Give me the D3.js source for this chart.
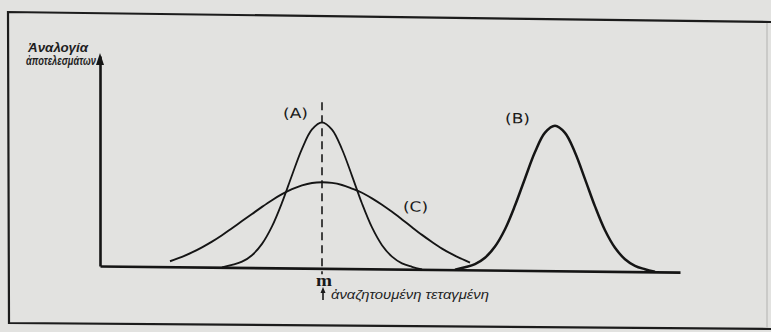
<!DOCTYPE html>
<html>
<head>
<meta charset="utf-8">
<script src="https://cdn.jsdelivr.net/npm/d3@7"></script>
<style>
  body { margin: 0; background: #e2e2e0; }
  svg { display: block; }
</style>
</head>
<body>
<div id="chart"></div>
<script>
// abscissa readings, m = 0
var xA = [-10, -9, -8, -7, -6, -5, -4, -3, -2, -1, 0, 1, 2, 3, 4, 5, 6, 7, 8, 9, 10];
var yA = [0, 0.25, 0.58, 1.24, 2.38, 4.14, 6.52, 9.28, 11.93, 13.88, 14.6,
          13.88, 11.93, 9.28, 6.52, 4.14, 2.38, 1.24, 0.58, 0.25, 0];

var xB = [13.3, 14.3, 15.3, 16.3, 17.3, 18.3, 19.3, 20.3, 21.3, 22.3, 23.3,
          24.3, 25.3, 26.3, 27.3, 28.3, 29.3, 30.3, 31.3, 32.3, 33.3];
var yB = [0, 0.25, 0.58, 1.23, 2.36, 4.1, 6.48, 9.2, 11.85, 13.8, 14.5,
          13.8, 11.85, 9.2, 6.48, 4.1, 2.36, 1.23, 0.58, 0.25, 0];

var xC = [-15.2, -14, -13, -12, -11, -10, -9, -8, -7, -6, -5, -4, -3, -2, -1, 0,
          1, 2, 3, 4, 5, 6, 7, 8, 9, 10, 11, 12, 13, 14, 14.8];
var yC = [0.55, 1.0, 1.45, 1.97, 2.55, 3.2, 3.92, 4.64, 5.36, 6.08, 6.76, 7.37, 7.88, 8.27, 8.52, 8.6,
          8.55, 8.35, 8.0, 7.6, 7.05, 6.42, 5.72, 4.97, 4.2, 3.45, 2.75, 2.1, 1.55, 1.08, 0.72];

var curveNames = ["(A)", "(B)", "(C)"];
var yTitle = ["Ἀναλογία", "ἀποτελεσμάτων"];
var xTitle = "ἀναζητουμένη τεταγμένη";
var mLabel = "m";
var mTop = 16.6;

var svg = d3.select("#chart")
  .append("svg")
  .attr("width", 771)
  .attr("height", 332);

svg.append("rect")
  .attr("width", 771)
  .attr("height", 332)
  .attr("fill", "#e2e2e0");

// page frame (scan is a bit skewed)
svg.append("path")
  .attr("d", "M771,22 L8,12 L9,323 L771,329")
  .attr("fill", "none")
  .attr("stroke", "#1c1c1c")
  .attr("stroke-width", 2.2);

svg.append("path")
  .attr("d", "M767,23 L767,328")
  .attr("fill", "none")
  .attr("stroke", "#c2c2c0")
  .attr("stroke-width", 1.5);

var x = d3.scaleLinear()
  .domain([-22.2, 35.8])
  .range([100, 680]);

var y = d3.scaleLinear()
  .domain([0, 21])
  .range([266, 56]);

var chartGroup = svg.append("g")
  .attr("transform", "translate(100,266) skewY(0.6) translate(-100,-266)");

// axes
var bottomAxis = d3.axisBottom(x).ticks(0).tickSizeOuter(0);
var leftAxis = d3.axisLeft(y).ticks(0).tickSizeOuter(0);

chartGroup.append("g")
  .attr("transform", `translate(0, ${y(0)})`)
  .call(bottomAxis)
  .select(".domain")
  .attr("stroke", "#151515")
  .attr("stroke-width", 2.6);

chartGroup.append("g")
  .attr("transform", `translate(${x.range()[0]}, 0)`)
  .call(leftAxis)
  .select(".domain")
  .attr("stroke", "#151515")
  .attr("stroke-width", 2.6);

// arrow head on ordinate
var topY = y.range()[1];
chartGroup.append("path")
  .attr("d", `M${x.range()[0]},${topY - 3} L${x.range()[0] - 4},${topY + 9} L${x.range()[0] + 4},${topY + 9} Z`)
  .attr("fill", "#151515");

// dashed line at m
chartGroup.append("line")
  .attr("x1", x(0)).attr("x2", x(0))
  .attr("y1", y(mTop)).attr("y2", y(-0.6))
  .attr("stroke", "#1a1a1a")
  .attr("stroke-width", 1.6)
  .attr("stroke-dasharray", "8,5");

var line = d3.line()
  .x(d => x(d[0]))
  .y(d => y(d[1]))
  .curve(d3.curveCatmullRom.alpha(0.5));

var curves = [
  { pts: d3.zip(xA, yA), w: 1.8 },
  { pts: d3.zip(xB, yB), w: 2.5 },
  { pts: d3.zip(xC, yC), w: 1.9 }
];

chartGroup.selectAll(".curve")
  .data(curves)
  .enter()
  .append("path")
  .attr("class", "curve")
  .attr("d", d => line(d.pts))
  .attr("fill", "none")
  .attr("stroke", "#151515")
  .attr("stroke-width", d => d.w)
  .attr("stroke-linejoin", "round");

// curve labels
var labelPos = [
  [x(0) - 39, y(d3.max(yA)) - 4],
  [x(23.3) - 50, y(d3.max(yB)) - 2],
  [x(8.1), y(yC[23]) - 8]
];

chartGroup.selectAll(".clabel")
  .data(curveNames)
  .enter()
  .append("text")
  .attr("class", "clabel")
  .attr("x", (d, i) => labelPos[i][0])
  .attr("y", (d, i) => labelPos[i][1])
  .attr("font-family", "DejaVu Sans")
  .attr("font-size", "14px")
  .attr("textLength", 25)
  .attr("lengthAdjust", "spacingAndGlyphs")
  .attr("fill", "#1a1a1a")
  .text(d => d);

// ordinate title
svg.selectAll(".ytitle")
  .data(yTitle)
  .enter()
  .append("text")
  .attr("class", "ytitle")
  .attr("x", (d, i) => i === 0 ? 28 : 26)
  .attr("y", (d, i) => 52 + i * 13)
  .attr("font-family", "Liberation Sans")
  .attr("font-style", "italic")
  .attr("font-weight", "bold")
  .attr("font-size", "12px")
  .attr("textLength", (d, i) => i === 0 ? 60 : 70)
  .attr("lengthAdjust", "spacingAndGlyphs")
  .attr("fill", "#1e1e1e")
  .text(d => d);

// m and abscissa note
svg.append("text")
  .attr("x", x(0) - 6)
  .attr("y", 286)
  .attr("font-family", "Liberation Serif")
  .attr("font-weight", "bold")
  .attr("font-size", "17px")
  .attr("textLength", 16)
  .attr("lengthAdjust", "spacingAndGlyphs")
  .attr("fill", "#1a1a1a")
  .text(mLabel);

svg.append("line")
  .attr("x1", x(0) + 1).attr("x2", x(0) + 1)
  .attr("y1", 300).attr("y2", 291)
  .attr("stroke", "#1a1a1a")
  .attr("stroke-width", 1.6);

svg.append("path")
  .attr("d", `M${x(0) + 1},287 L${x(0) - 1.5},293 L${x(0) + 3.5},293 Z`)
  .attr("fill", "#1a1a1a");

svg.append("text")
  .attr("x", x(0) + 9)
  .attr("y", 299)
  .attr("font-family", "Liberation Sans")
  .attr("font-style", "italic")
  .attr("font-size", "12.5px")
  .attr("textLength", 158)
  .attr("lengthAdjust", "spacingAndGlyphs")
  .attr("fill", "#1e1e1e")
  .text(xTitle);
</script>
</body>
</html>
